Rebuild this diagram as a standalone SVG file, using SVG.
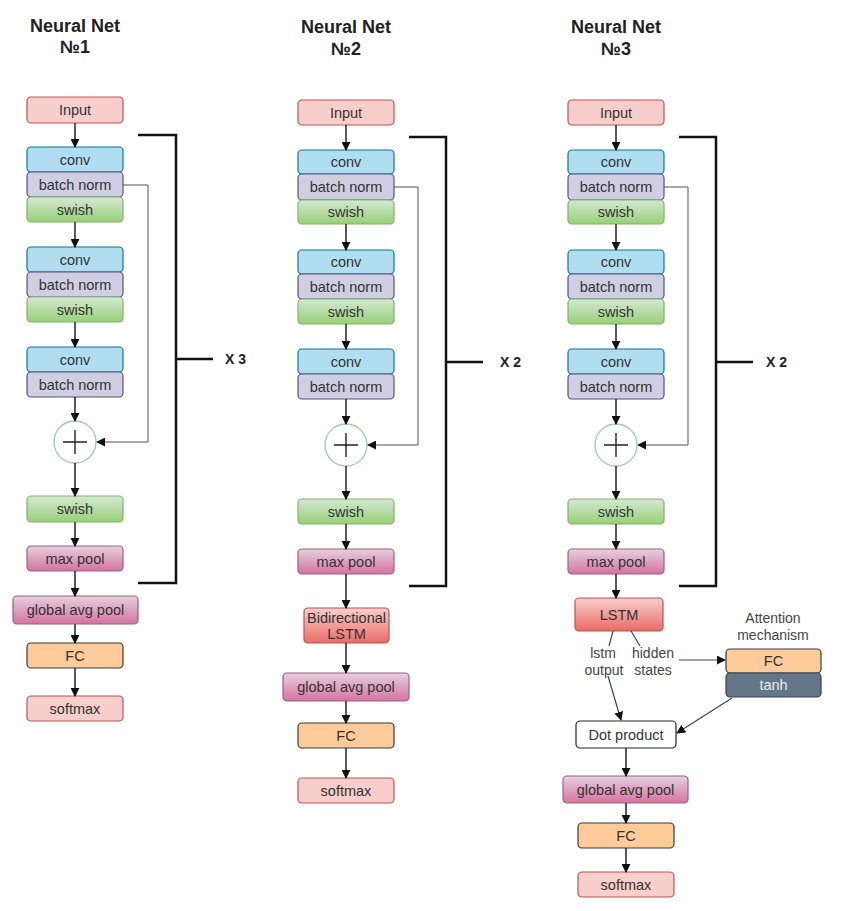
<svg xmlns="http://www.w3.org/2000/svg" width="844" height="911" viewBox="0 0 844 911">
<defs>
<style>
text{font-family:"Liberation Sans",Arial,sans-serif;fill:#333;}
.t{font-size:14.5px;text-anchor:middle;dominant-baseline:central;}
.title{font-size:18px;font-weight:bold;text-anchor:middle;fill:#222;}
.rep{font-size:14px;font-weight:bold;fill:#222;}
.lbl{font-size:14px;text-anchor:middle;fill:#444;}
.inp{fill:#f8cecc;stroke:#b85450;stroke-width:1.2;}
.conv{fill:#b1ddf0;stroke:#10739e;stroke-width:1.2;}
.bn{fill:#d0cee2;stroke:#56517e;stroke-width:1.2;}
.sw{fill:url(#gSw);stroke:#82b366;stroke-width:1.2;}
.pool{fill:url(#gPool);stroke:#996185;stroke-width:1.2;}
.fc{fill:#ffcc99;stroke:#36393d;stroke-width:1.2;}
.lstm{fill:url(#gLstm);stroke:#b85450;stroke-width:1.2;}
.tanh{fill:#647687;stroke:#314354;stroke-width:1.2;}
.dot{fill:#fff;stroke:#222;stroke-width:1.2;}
.add{fill:#fff;stroke:#9cc8b4;stroke-width:1.3;}
.plus{stroke:#222;stroke-width:1.4;fill:none;}
.arr{stroke:#222;stroke-width:1.5;fill:none;marker-end:url(#ah);}
.skip{stroke:#555;stroke-width:1;fill:none;}
.skipa{stroke:#555;stroke-width:1;fill:none;marker-end:url(#ah);}
.thin{stroke:#444;stroke-width:1.2;fill:none;}
.thina{stroke:#444;stroke-width:1.2;fill:none;marker-end:url(#ah);}
.br{stroke:#111;stroke-width:2.5;fill:none;}
</style>
<linearGradient id="gSw" x1="0" y1="0" x2="0" y2="1"><stop offset="0" stop-color="#d5e8d4"/><stop offset="1" stop-color="#97d077"/></linearGradient>
<linearGradient id="gPool" x1="0" y1="0" x2="0" y2="1"><stop offset="0" stop-color="#e6d0de"/><stop offset="1" stop-color="#d5739d"/></linearGradient>
<linearGradient id="gLstm" x1="0" y1="0" x2="0" y2="1"><stop offset="0" stop-color="#f8cecc"/><stop offset="1" stop-color="#ea6b66"/></linearGradient>
<marker id="ah" viewBox="0 0 10 10" refX="9" refY="5" markerWidth="9" markerHeight="9" markerUnits="userSpaceOnUse" orient="auto"><path d="M0,0 L10,5 L0,10 z" fill="#111"/></marker>
</defs>
<rect width="844" height="911" fill="#fff"/>

<!-- Titles -->
<g id="title1"><text class="title" x="75" y="32">Neural Net</text><text class="title" x="75" y="53">№1</text></g>
<g id="title2"><text class="title" x="346" y="33">Neural Net</text><text class="title" x="346" y="55">№2</text></g>
<g id="title3"><text class="title" x="616" y="33">Neural Net</text><text class="title" x="616" y="55">№3</text></g>

<!-- Net 1 nodes -->
<g id="n1-input"><rect class="inp" x="27" y="97" width="96" height="26" rx="4"/><text class="t" x="75" y="110">Input</text></g>
<g id="n1-conv1"><rect class="conv" x="27" y="147" width="96" height="25" rx="4"/><text class="t" x="75" y="159.5">conv</text></g>
<g id="n1-bn1"><rect class="bn" x="27" y="172" width="96" height="25" rx="4"/><text class="t" x="75" y="184.5">batch norm</text></g>
<g id="n1-sw1"><rect class="sw" x="27" y="197" width="96" height="25" rx="4"/><text class="t" x="75" y="209.5">swish</text></g>
<g id="n1-conv2"><rect class="conv" x="27" y="247" width="96" height="25" rx="4"/><text class="t" x="75" y="259.5">conv</text></g>
<g id="n1-bn2"><rect class="bn" x="27" y="272" width="96" height="25" rx="4"/><text class="t" x="75" y="284.5">batch norm</text></g>
<g id="n1-sw2"><rect class="sw" x="27" y="297" width="96" height="25" rx="4"/><text class="t" x="75" y="309.5">swish</text></g>
<g id="n1-conv3"><rect class="conv" x="27" y="347" width="96" height="25" rx="4"/><text class="t" x="75" y="359.5">conv</text></g>
<g id="n1-bn3"><rect class="bn" x="27" y="372" width="96" height="25" rx="4"/><text class="t" x="75" y="384.5">batch norm</text></g>
<g id="n1-add"><circle class="add" cx="75" cy="442" r="21"/><path class="plus" d="M63,442 H87 M75,430 V454"/></g>
<g id="n1-sw3"><rect class="sw" x="27" y="496" width="96" height="26" rx="4"/><text class="t" x="75" y="509">swish</text></g>
<g id="n1-maxpool"><rect class="pool" x="27" y="546" width="96" height="25" rx="4"/><text class="t" x="75" y="558.5">max pool</text></g>
<g id="n1-gap"><rect class="pool" x="13" y="596" width="125" height="28" rx="4"/><text class="t" x="75.5" y="610">global avg pool</text></g>
<g id="n1-fc"><rect class="fc" x="27" y="643" width="96" height="25" rx="4"/><text class="t" x="75" y="655.5">FC</text></g>
<g id="n1-softmax"><rect class="inp" x="27" y="696" width="96" height="25" rx="4"/><text class="t" x="75" y="708.5">softmax</text></g>
<g id="n1-rep"><text class="rep" x="225" y="364">X 3</text></g>

<!-- Net 2 nodes -->
<g id="n2-input"><rect class="inp" x="298" y="100" width="96" height="25" rx="4"/><text class="t" x="346" y="112.5">Input</text></g>
<g id="n2-conv1"><rect class="conv" x="298" y="150" width="96" height="24" rx="4"/><text class="t" x="346" y="162">conv</text></g>
<g id="n2-bn1"><rect class="bn" x="298" y="174" width="96" height="26" rx="4"/><text class="t" x="346" y="187">batch norm</text></g>
<g id="n2-sw1"><rect class="sw" x="298" y="200" width="96" height="24" rx="4"/><text class="t" x="346" y="212">swish</text></g>
<g id="n2-conv2"><rect class="conv" x="298" y="250" width="96" height="24" rx="4"/><text class="t" x="346" y="262">conv</text></g>
<g id="n2-bn2"><rect class="bn" x="298" y="274" width="96" height="25" rx="4"/><text class="t" x="346" y="286.5">batch norm</text></g>
<g id="n2-sw2"><rect class="sw" x="298" y="299" width="96" height="25" rx="4"/><text class="t" x="346" y="311.5">swish</text></g>
<g id="n2-conv3"><rect class="conv" x="298" y="349" width="96" height="25" rx="4"/><text class="t" x="346" y="361.5">conv</text></g>
<g id="n2-bn3"><rect class="bn" x="298" y="374" width="96" height="25" rx="4"/><text class="t" x="346" y="386.5">batch norm</text></g>
<g id="n2-add"><circle class="add" cx="346" cy="445" r="21"/><path class="plus" d="M334,445 H358 M346,433 V457"/></g>
<g id="n2-sw3"><rect class="sw" x="298" y="499" width="96" height="25" rx="4"/><text class="t" x="346" y="511.5">swish</text></g>
<g id="n2-maxpool"><rect class="pool" x="298" y="549" width="96" height="25" rx="4"/><text class="t" x="346" y="561.5">max pool</text></g>
<g id="n2-bilstm"><rect class="lstm" x="304" y="608" width="85" height="35" rx="4"/><text class="t" x="346.5" y="617.5">Bidirectional</text><text class="t" x="346.5" y="634">LSTM</text></g>
<g id="n2-gap"><rect class="pool" x="283" y="673" width="126" height="28" rx="4"/><text class="t" x="346" y="687">global avg pool</text></g>
<g id="n2-fc"><rect class="fc" x="298" y="723" width="96" height="25" rx="4"/><text class="t" x="346" y="735.5">FC</text></g>
<g id="n2-softmax"><rect class="inp" x="298" y="778" width="96" height="25" rx="4"/><text class="t" x="346" y="790.5">softmax</text></g>
<g id="n2-rep"><text class="rep" x="500" y="367">X 2</text></g>

<!-- Net 3 nodes -->
<g id="n3-input"><rect class="inp" x="568" y="100" width="96" height="25" rx="4"/><text class="t" x="616" y="112.5">Input</text></g>
<g id="n3-conv1"><rect class="conv" x="568" y="150" width="96" height="24" rx="4"/><text class="t" x="616" y="162">conv</text></g>
<g id="n3-bn1"><rect class="bn" x="568" y="174" width="96" height="26" rx="4"/><text class="t" x="616" y="187">batch norm</text></g>
<g id="n3-sw1"><rect class="sw" x="568" y="200" width="96" height="24" rx="4"/><text class="t" x="616" y="212">swish</text></g>
<g id="n3-conv2"><rect class="conv" x="568" y="250" width="96" height="24" rx="4"/><text class="t" x="616" y="262">conv</text></g>
<g id="n3-bn2"><rect class="bn" x="568" y="274" width="96" height="25" rx="4"/><text class="t" x="616" y="286.5">batch norm</text></g>
<g id="n3-sw2"><rect class="sw" x="568" y="299" width="96" height="25" rx="4"/><text class="t" x="616" y="311.5">swish</text></g>
<g id="n3-conv3"><rect class="conv" x="568" y="349" width="96" height="25" rx="4"/><text class="t" x="616" y="361.5">conv</text></g>
<g id="n3-bn3"><rect class="bn" x="568" y="374" width="96" height="25" rx="4"/><text class="t" x="616" y="386.5">batch norm</text></g>
<g id="n3-add"><circle class="add" cx="616" cy="445" r="21"/><path class="plus" d="M604,445 H628 M616,433 V457"/></g>
<g id="n3-sw3"><rect class="sw" x="568" y="499" width="96" height="25" rx="4"/><text class="t" x="616" y="511.5">swish</text></g>
<g id="n3-maxpool"><rect class="pool" x="568" y="549" width="96" height="25" rx="4"/><text class="t" x="616" y="561.5">max pool</text></g>
<g id="n3-lstm"><rect class="lstm" x="575" y="598" width="88" height="33" rx="4"/><text class="t" x="619" y="614.5">LSTM</text></g>
<g id="n3-labels"><text class="lbl" x="603" y="658">lstm</text><text class="lbl" x="604" y="675">output</text><text class="lbl" x="653" y="658">hidden</text><text class="lbl" x="653" y="675">states</text></g>
<g id="n3-att-title"><text class="lbl" x="773" y="623">Attention</text><text class="lbl" x="773" y="640">mechanism</text></g>
<g id="n3-att-fc"><rect class="fc" x="726" y="649" width="95" height="24" rx="4"/><text class="t" x="773.5" y="661">FC</text></g>
<g id="n3-att-tanh"><rect class="tanh" x="726" y="673" width="95" height="24" rx="4"/><text class="t" x="773.5" y="685" style="fill:#e8eef4">tanh</text></g>
<g id="n3-dot"><rect class="dot" x="576" y="721" width="100" height="27" rx="4"/><text class="t" x="626" y="734.5">Dot product</text></g>
<g id="n3-gap"><rect class="pool" x="563" y="776" width="125" height="27" rx="4"/><text class="t" x="625.5" y="789.5">global avg pool</text></g>
<g id="n3-fc"><rect class="fc" x="578" y="823" width="96" height="25" rx="4"/><text class="t" x="626" y="835.5">FC</text></g>
<g id="n3-softmax"><rect class="inp" x="578" y="872" width="96" height="25" rx="4"/><text class="t" x="626" y="884.5">softmax</text></g>
<g id="n3-rep"><text class="rep" x="766" y="367">X 2</text></g>

<!-- Connectors -->
<g id="connectors">
<!-- Net 1 -->
<path class="arr" d="M75,123 V147"/>
<path class="arr" d="M75,222 V247"/>
<path class="arr" d="M75,322 V347"/>
<path class="arr" d="M75,397 V421"/>
<path class="arr" d="M75,463 V496"/>
<path class="arr" d="M75,522 V546"/>
<path class="arr" d="M75,571 V596"/>
<path class="arr" d="M75,624 V643"/>
<path class="arr" d="M75,668 V696"/>
<path class="skipa" d="M123,185 H148 V442 H97"/>
<path class="br" d="M138,135 H176 V583 H138 M176,359 H213"/>
<!-- Net 2 -->
<path class="arr" d="M346,125 V150"/>
<path class="arr" d="M346,224 V250"/>
<path class="arr" d="M346,324 V349"/>
<path class="arr" d="M346,399 V424"/>
<path class="arr" d="M346,466 V499"/>
<path class="arr" d="M346,524 V549"/>
<path class="arr" d="M346,574 V608"/>
<path class="arr" d="M346,643 V673"/>
<path class="arr" d="M346,701 V723"/>
<path class="arr" d="M346,748 V778"/>
<path class="skipa" d="M394,187 H418 V445 H368"/>
<path class="br" d="M409,137 H446 V586 H409 M446,362 H483"/>
<!-- Net 3 -->
<path class="arr" d="M616,125 V150"/>
<path class="arr" d="M616,224 V250"/>
<path class="arr" d="M616,324 V349"/>
<path class="arr" d="M616,399 V424"/>
<path class="arr" d="M616,466 V499"/>
<path class="arr" d="M616,524 V549"/>
<path class="arr" d="M616,574 V598"/>
<path class="skipa" d="M664,187 H688 V445 H638"/>
<path class="br" d="M679,137 H716 V586 H679 M716,362 H753"/>
<path class="thin" d="M613,631 L609,646"/>
<path class="thin" d="M631,631 L640,646"/>
<path class="thina" d="M679,660 H725"/>
<path class="thina" d="M608,676 L621,720"/>
<path class="thina" d="M732,698 L677,733"/>
<path class="arr" d="M626,748 V776"/>
<path class="arr" d="M626,803 V823"/>
<path class="arr" d="M626,848 V872"/>
</g>
</svg>
